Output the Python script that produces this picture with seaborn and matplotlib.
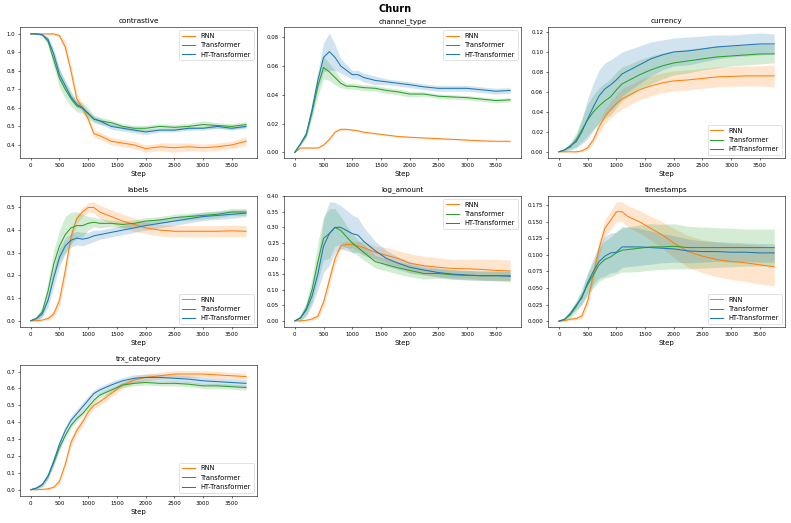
import matplotlib.pyplot as plt
import pandas as pd
import seaborn as sns

# Training steps (shared by every panel)
steps = [0, 100, 200, 300, 400, 500, 600, 700, 800, 900, 1000, 1100, 1200,
         1400, 1600, 1800, 2000, 2250, 2500, 2750, 3000, 3250, 3500, 3750]

models = ['RNN', 'Transformer', 'HT-Transformer']
colors = ['#ff7f0e', '#2ca02c', '#1f77b4']

# contrastive
contrastive_rnn = [1.0, 1.0, 1.0, 1.0, 1.0, 0.99, 0.93, 0.80, 0.65, 0.60, 0.54, 0.46, 0.45,
                   0.42, 0.41, 0.40, 0.38, 0.39, 0.385, 0.39, 0.385, 0.39, 0.40, 0.42]
contrastive_rnn_err = [0.0, 0.0, 0.002, 0.003, 0.005, 0.01, 0.03, 0.03, 0.03, 0.02, 0.02, 0.02, 0.02,
                       0.02, 0.02, 0.02, 0.02, 0.02, 0.025, 0.02, 0.02, 0.02, 0.02, 0.025]
contrastive_tr = [1.0, 1.0, 0.995, 0.96, 0.86, 0.76, 0.70, 0.65, 0.61, 0.60, 0.57, 0.54, 0.53,
                  0.52, 0.50, 0.49, 0.49, 0.50, 0.495, 0.50, 0.51, 0.505, 0.50, 0.51]
contrastive_tr_err = [0.0, 0.002, 0.005, 0.02, 0.04, 0.05, 0.05, 0.04, 0.03, 0.03, 0.03, 0.02, 0.02,
                      0.015, 0.015, 0.015, 0.015, 0.015, 0.015, 0.015, 0.02, 0.015, 0.015, 0.015]
contrastive_ht = [1.0, 1.0, 0.995, 0.97, 0.89, 0.78, 0.72, 0.66, 0.62, 0.60, 0.57, 0.54, 0.53,
                  0.50, 0.49, 0.48, 0.47, 0.48, 0.48, 0.49, 0.49, 0.50, 0.49, 0.50]
contrastive_ht_err = [0.0, 0.002, 0.005, 0.015, 0.03, 0.03, 0.02, 0.02, 0.015, 0.015, 0.015, 0.015, 0.015,
                      0.015, 0.015, 0.015, 0.015, 0.01, 0.01, 0.01, 0.01, 0.01, 0.01, 0.01]

# channel_type
channel_rnn = [0.0, 0.003, 0.003, 0.003, 0.003, 0.005, 0.009, 0.014, 0.016, 0.016, 0.0155, 0.015, 0.014,
               0.013, 0.012, 0.011, 0.0105, 0.010, 0.0095, 0.009, 0.0085, 0.008, 0.0077, 0.0077]
channel_rnn_err = [0.0, 0.0005, 0.0005, 0.0005, 0.0005, 0.0007, 0.0008, 0.0008, 0.0008, 0.0007, 0.0007, 0.0006, 0.0006,
                   0.0005, 0.0005, 0.0005, 0.0005, 0.0004, 0.0004, 0.0004, 0.0004, 0.0004, 0.0004, 0.0004]
channel_tr = [0.0, 0.006, 0.012, 0.028, 0.046, 0.059, 0.056, 0.052, 0.048, 0.046, 0.046, 0.0455, 0.045,
              0.0445, 0.043, 0.042, 0.0405, 0.0405, 0.039, 0.0385, 0.038, 0.037, 0.036, 0.0365]
channel_tr_err = [0.0, 0.001, 0.002, 0.004, 0.007, 0.008, 0.006, 0.005, 0.003, 0.002, 0.002, 0.002, 0.002,
                  0.002, 0.002, 0.002, 0.002, 0.0015, 0.0015, 0.0015, 0.0015, 0.0015, 0.0015, 0.0015]
channel_ht = [0.0, 0.006, 0.013, 0.030, 0.050, 0.066, 0.070, 0.066, 0.060, 0.057, 0.054, 0.054, 0.052,
              0.050, 0.049, 0.048, 0.047, 0.0455, 0.0445, 0.0445, 0.0445, 0.0435, 0.0425, 0.043]
channel_ht_err = [0.0, 0.001, 0.002, 0.004, 0.006, 0.010, 0.013, 0.009, 0.005, 0.004, 0.003, 0.003, 0.003,
                  0.003, 0.002, 0.002, 0.002, 0.002, 0.002, 0.002, 0.002, 0.002, 0.002, 0.002]

# currency
currency_rnn = [0.0, 0.0, 0.0, 0.0, 0.001, 0.004, 0.012, 0.025, 0.035, 0.042, 0.048, 0.053, 0.056,
                0.062, 0.066, 0.069, 0.071, 0.072, 0.0735, 0.075, 0.0755, 0.076, 0.076, 0.076]
currency_rnn_err = [0.0, 0.0, 0.0, 0.0005, 0.001, 0.002, 0.004, 0.006, 0.007, 0.008, 0.009, 0.01, 0.01,
                    0.01, 0.01, 0.01, 0.01, 0.01, 0.01, 0.01, 0.01, 0.01, 0.01, 0.011]
currency_tr = [0.0, 0.002, 0.005, 0.012, 0.022, 0.032, 0.040, 0.046, 0.051, 0.055, 0.062, 0.068, 0.071,
               0.077, 0.082, 0.086, 0.089, 0.091, 0.093, 0.095, 0.096, 0.097, 0.098, 0.098]
currency_tr_err = [0.0, 0.002, 0.004, 0.007, 0.012, 0.016, 0.017, 0.018, 0.018, 0.018, 0.018, 0.017, 0.016,
                   0.015, 0.014, 0.013, 0.012, 0.012, 0.011, 0.011, 0.01, 0.01, 0.01, 0.009]
currency_ht = [0.0, 0.002, 0.006, 0.010, 0.020, 0.033, 0.045, 0.056, 0.063, 0.067, 0.072, 0.078, 0.081,
               0.087, 0.093, 0.097, 0.100, 0.101, 0.103, 0.105, 0.106, 0.107, 0.108, 0.108]
currency_ht_err = [0.0, 0.001, 0.003, 0.006, 0.012, 0.020, 0.024, 0.026, 0.026, 0.025, 0.024, 0.022, 0.021,
                   0.019, 0.017, 0.015, 0.014, 0.014, 0.013, 0.012, 0.011, 0.011, 0.011, 0.010]

# labels
labels_rnn = [0.0, 0.0, 0.003, 0.01, 0.03, 0.09, 0.22, 0.37, 0.45, 0.48, 0.50, 0.50, 0.48,
              0.46, 0.44, 0.425, 0.41, 0.40, 0.395, 0.395, 0.395, 0.395, 0.397, 0.395]
labels_rnn_err = [0.0, 0.002, 0.004, 0.008, 0.015, 0.025, 0.03, 0.03, 0.02, 0.02, 0.02, 0.025, 0.03,
                  0.03, 0.03, 0.03, 0.025, 0.025, 0.025, 0.025, 0.025, 0.025, 0.025, 0.025]
labels_tr = [0.0, 0.01, 0.04, 0.13, 0.25, 0.33, 0.38, 0.41, 0.42, 0.42, 0.43, 0.435, 0.43,
             0.43, 0.425, 0.43, 0.44, 0.445, 0.455, 0.46, 0.465, 0.47, 0.48, 0.48]
labels_tr_err = [0.0, 0.01, 0.02, 0.04, 0.06, 0.07, 0.08, 0.07, 0.06, 0.05, 0.03, 0.02, 0.02,
                 0.015, 0.015, 0.015, 0.015, 0.015, 0.015, 0.015, 0.015, 0.015, 0.015, 0.015]
labels_ht = [0.0, 0.01, 0.03, 0.09, 0.19, 0.28, 0.33, 0.355, 0.365, 0.36, 0.365, 0.375, 0.38,
             0.39, 0.40, 0.41, 0.42, 0.43, 0.44, 0.45, 0.46, 0.465, 0.47, 0.475]
labels_ht_err = [0.0, 0.01, 0.015, 0.03, 0.04, 0.04, 0.035, 0.03, 0.03, 0.03, 0.025, 0.025, 0.02,
                 0.02, 0.02, 0.02, 0.02, 0.02, 0.02, 0.018, 0.018, 0.018, 0.018, 0.015]

# log_amount
log_amount_rnn = [0.0, 0.0, 0.002, 0.006, 0.015, 0.06, 0.13, 0.20, 0.24, 0.245, 0.245, 0.24, 0.235,
                  0.22, 0.21, 0.20, 0.185, 0.177, 0.172, 0.168, 0.167, 0.165, 0.162, 0.160]
log_amount_rnn_err = [0.0, 0.001, 0.002, 0.004, 0.008, 0.015, 0.02, 0.02, 0.01, 0.01, 0.01, 0.015, 0.02,
                      0.02, 0.025, 0.025, 0.03, 0.03, 0.03, 0.03, 0.03, 0.033, 0.035, 0.035]
log_amount_tr = [0.0, 0.01, 0.04, 0.10, 0.19, 0.265, 0.28, 0.30, 0.29, 0.27, 0.25, 0.235, 0.22,
                 0.19, 0.18, 0.17, 0.162, 0.152, 0.152, 0.148, 0.146, 0.145, 0.145, 0.145]
log_amount_tr_err = [0.0, 0.01, 0.02, 0.04, 0.06, 0.07, 0.08, 0.06, 0.045, 0.035, 0.03, 0.025, 0.025,
                     0.02, 0.02, 0.02, 0.02, 0.018, 0.015, 0.015, 0.015, 0.015, 0.015, 0.015]
log_amount_ht = [0.0, 0.01, 0.035, 0.08, 0.15, 0.24, 0.28, 0.30, 0.30, 0.29, 0.28, 0.275, 0.255,
                 0.225, 0.20, 0.185, 0.172, 0.163, 0.155, 0.15, 0.147, 0.145, 0.145, 0.143]
log_amount_ht_err = [0.0, 0.01, 0.02, 0.03, 0.05, 0.085, 0.102, 0.08, 0.07, 0.065, 0.06, 0.055, 0.045,
                     0.03, 0.025, 0.02, 0.018, 0.015, 0.015, 0.015, 0.015, 0.015, 0.015, 0.015]

# timestamps
timestamps_rnn = [0.0, 0.001, 0.003, 0.004, 0.008, 0.03, 0.07, 0.11, 0.14, 0.152, 0.165, 0.165, 0.158,
                  0.15, 0.14, 0.13, 0.118, 0.105, 0.098, 0.093, 0.09, 0.088, 0.085, 0.082]
timestamps_rnn_err = [0.0, 0.001, 0.002, 0.002, 0.004, 0.008, 0.01, 0.012, 0.013, 0.014, 0.015, 0.015, 0.016,
                      0.017, 0.018, 0.02, 0.022, 0.024, 0.025, 0.026, 0.027, 0.028, 0.029, 0.029]
timestamps_tr = [0.0, 0.003, 0.010, 0.022, 0.038, 0.055, 0.07, 0.085, 0.093, 0.097, 0.103, 0.107, 0.108,
                 0.110, 0.112, 0.112, 0.113, 0.111, 0.111, 0.111, 0.111, 0.111, 0.111, 0.111]
timestamps_tr_err = [0.0, 0.002, 0.005, 0.008, 0.012, 0.016, 0.02, 0.025, 0.028, 0.03, 0.032, 0.033, 0.034,
                     0.035, 0.035, 0.034, 0.034, 0.032, 0.031, 0.03, 0.029, 0.028, 0.028, 0.028]
timestamps_ht = [0.0, 0.003, 0.012, 0.024, 0.035, 0.058, 0.075, 0.09, 0.098, 0.103, 0.104, 0.112, 0.112,
                 0.112, 0.111, 0.110, 0.109, 0.106, 0.105, 0.105, 0.104, 0.104, 0.103, 0.103]
timestamps_ht_err = [0.0, 0.002, 0.004, 0.006, 0.01, 0.015, 0.02, 0.025, 0.03, 0.03, 0.03, 0.031, 0.03,
                     0.028, 0.025, 0.022, 0.02, 0.018, 0.016, 0.015, 0.015, 0.014, 0.014, 0.014]

# trx_category
trx_category_rnn = [0.0, 0.0, 0.002, 0.005, 0.015, 0.05, 0.15, 0.28, 0.35, 0.40, 0.46, 0.50, 0.52,
                    0.57, 0.62, 0.65, 0.665, 0.675, 0.685, 0.685, 0.685, 0.68, 0.675, 0.67]
trx_category_rnn_err = [0.0, 0.002, 0.003, 0.005, 0.008, 0.015, 0.02, 0.025, 0.025, 0.025, 0.02, 0.02, 0.02,
                        0.02, 0.02, 0.02, 0.02, 0.02, 0.02, 0.02, 0.02, 0.02, 0.02, 0.02]
trx_category_tr = [0.0, 0.01, 0.03, 0.08, 0.16, 0.25, 0.32, 0.38, 0.42, 0.45, 0.49, 0.53, 0.56,
                   0.59, 0.62, 0.63, 0.635, 0.63, 0.63, 0.625, 0.615, 0.615, 0.61, 0.605]
trx_category_tr_err = [0.0, 0.005, 0.01, 0.015, 0.015, 0.015, 0.015, 0.015, 0.015, 0.015, 0.015, 0.015, 0.015,
                       0.015, 0.015, 0.015, 0.015, 0.015, 0.015, 0.015, 0.015, 0.015, 0.015, 0.015]
trx_category_ht = [0.0, 0.01, 0.03, 0.08, 0.17, 0.27, 0.35, 0.41, 0.45, 0.49, 0.53, 0.57, 0.59,
                   0.62, 0.645, 0.66, 0.665, 0.665, 0.66, 0.655, 0.645, 0.64, 0.635, 0.63]
trx_category_ht_err = [0.0, 0.008, 0.015, 0.02, 0.025, 0.025, 0.025, 0.025, 0.025, 0.025, 0.025, 0.02, 0.02,
                       0.02, 0.02, 0.02, 0.02, 0.02, 0.02, 0.02, 0.02, 0.02, 0.02, 0.02]


def draw_panel(ax, title, series, legend_loc):
    handles = []
    for model, color, (mean, err) in zip(models, colors, series):
        df = pd.DataFrame({'Step': steps, 'value': mean, 'err': err})
        sns.lineplot(df, x='Step', y='value', color=color, ax=ax, linewidth=1.5)
        handles.append(ax.lines[-1])
        ax.fill_between(df['Step'], df['value'] - df['err'], df['value'] + df['err'],
                        color=color, alpha=0.2, linewidth=0)

    ax.set_title(title, fontsize=10.5)
    ax.set_xlabel('Step', fontsize=10)
    ax.set_ylabel(None)
    ax.set_xticks([0, 500, 1000, 1500, 2000, 2500, 3000, 3500])
    ax.tick_params(labelsize=7.8)
    ax.legend(handles, models, loc=legend_loc, fontsize=9.5)


if __name__ == "__main__":
    fig, axes = plt.subplots(3, 3, figsize=(15.82, 10.46), dpi=50)
    fig.subplots_adjust(left=0.0253, right=0.9924, top=0.9484, bottom=0.0516,
                        wspace=0.115, hspace=0.286)

    panels = [
        ('contrastive', [(contrastive_rnn, contrastive_rnn_err), (contrastive_tr, contrastive_tr_err),
                         (contrastive_ht, contrastive_ht_err)], 'upper right'),
        ('channel_type', [(channel_rnn, channel_rnn_err), (channel_tr, channel_tr_err),
                          (channel_ht, channel_ht_err)], 'upper right'),
        ('currency', [(currency_rnn, currency_rnn_err), (currency_tr, currency_tr_err),
                      (currency_ht, currency_ht_err)], 'lower right'),
        ('labels', [(labels_rnn, labels_rnn_err), (labels_tr, labels_tr_err),
                    (labels_ht, labels_ht_err)], 'lower right'),
        ('log_amount', [(log_amount_rnn, log_amount_rnn_err), (log_amount_tr, log_amount_tr_err),
                        (log_amount_ht, log_amount_ht_err)], 'upper right'),
        ('timestamps', [(timestamps_rnn, timestamps_rnn_err), (timestamps_tr, timestamps_tr_err),
                        (timestamps_ht, timestamps_ht_err)], 'lower right'),
        ('trx_category', [(trx_category_rnn, trx_category_rnn_err), (trx_category_tr, trx_category_tr_err),
                          (trx_category_ht, trx_category_ht_err)], 'lower right'),
    ]

    flat = axes.flatten()
    for ax, (title, series, loc) in zip(flat, panels):
        draw_panel(ax, title, series, loc)

    # Hide unused panels
    for ax in flat[len(panels):]:
        ax.axis('off')

    fig.suptitle('Churn', fontweight='bold', fontsize=14, y=0.993)

    plt.savefig('out.png', dpi=50)
